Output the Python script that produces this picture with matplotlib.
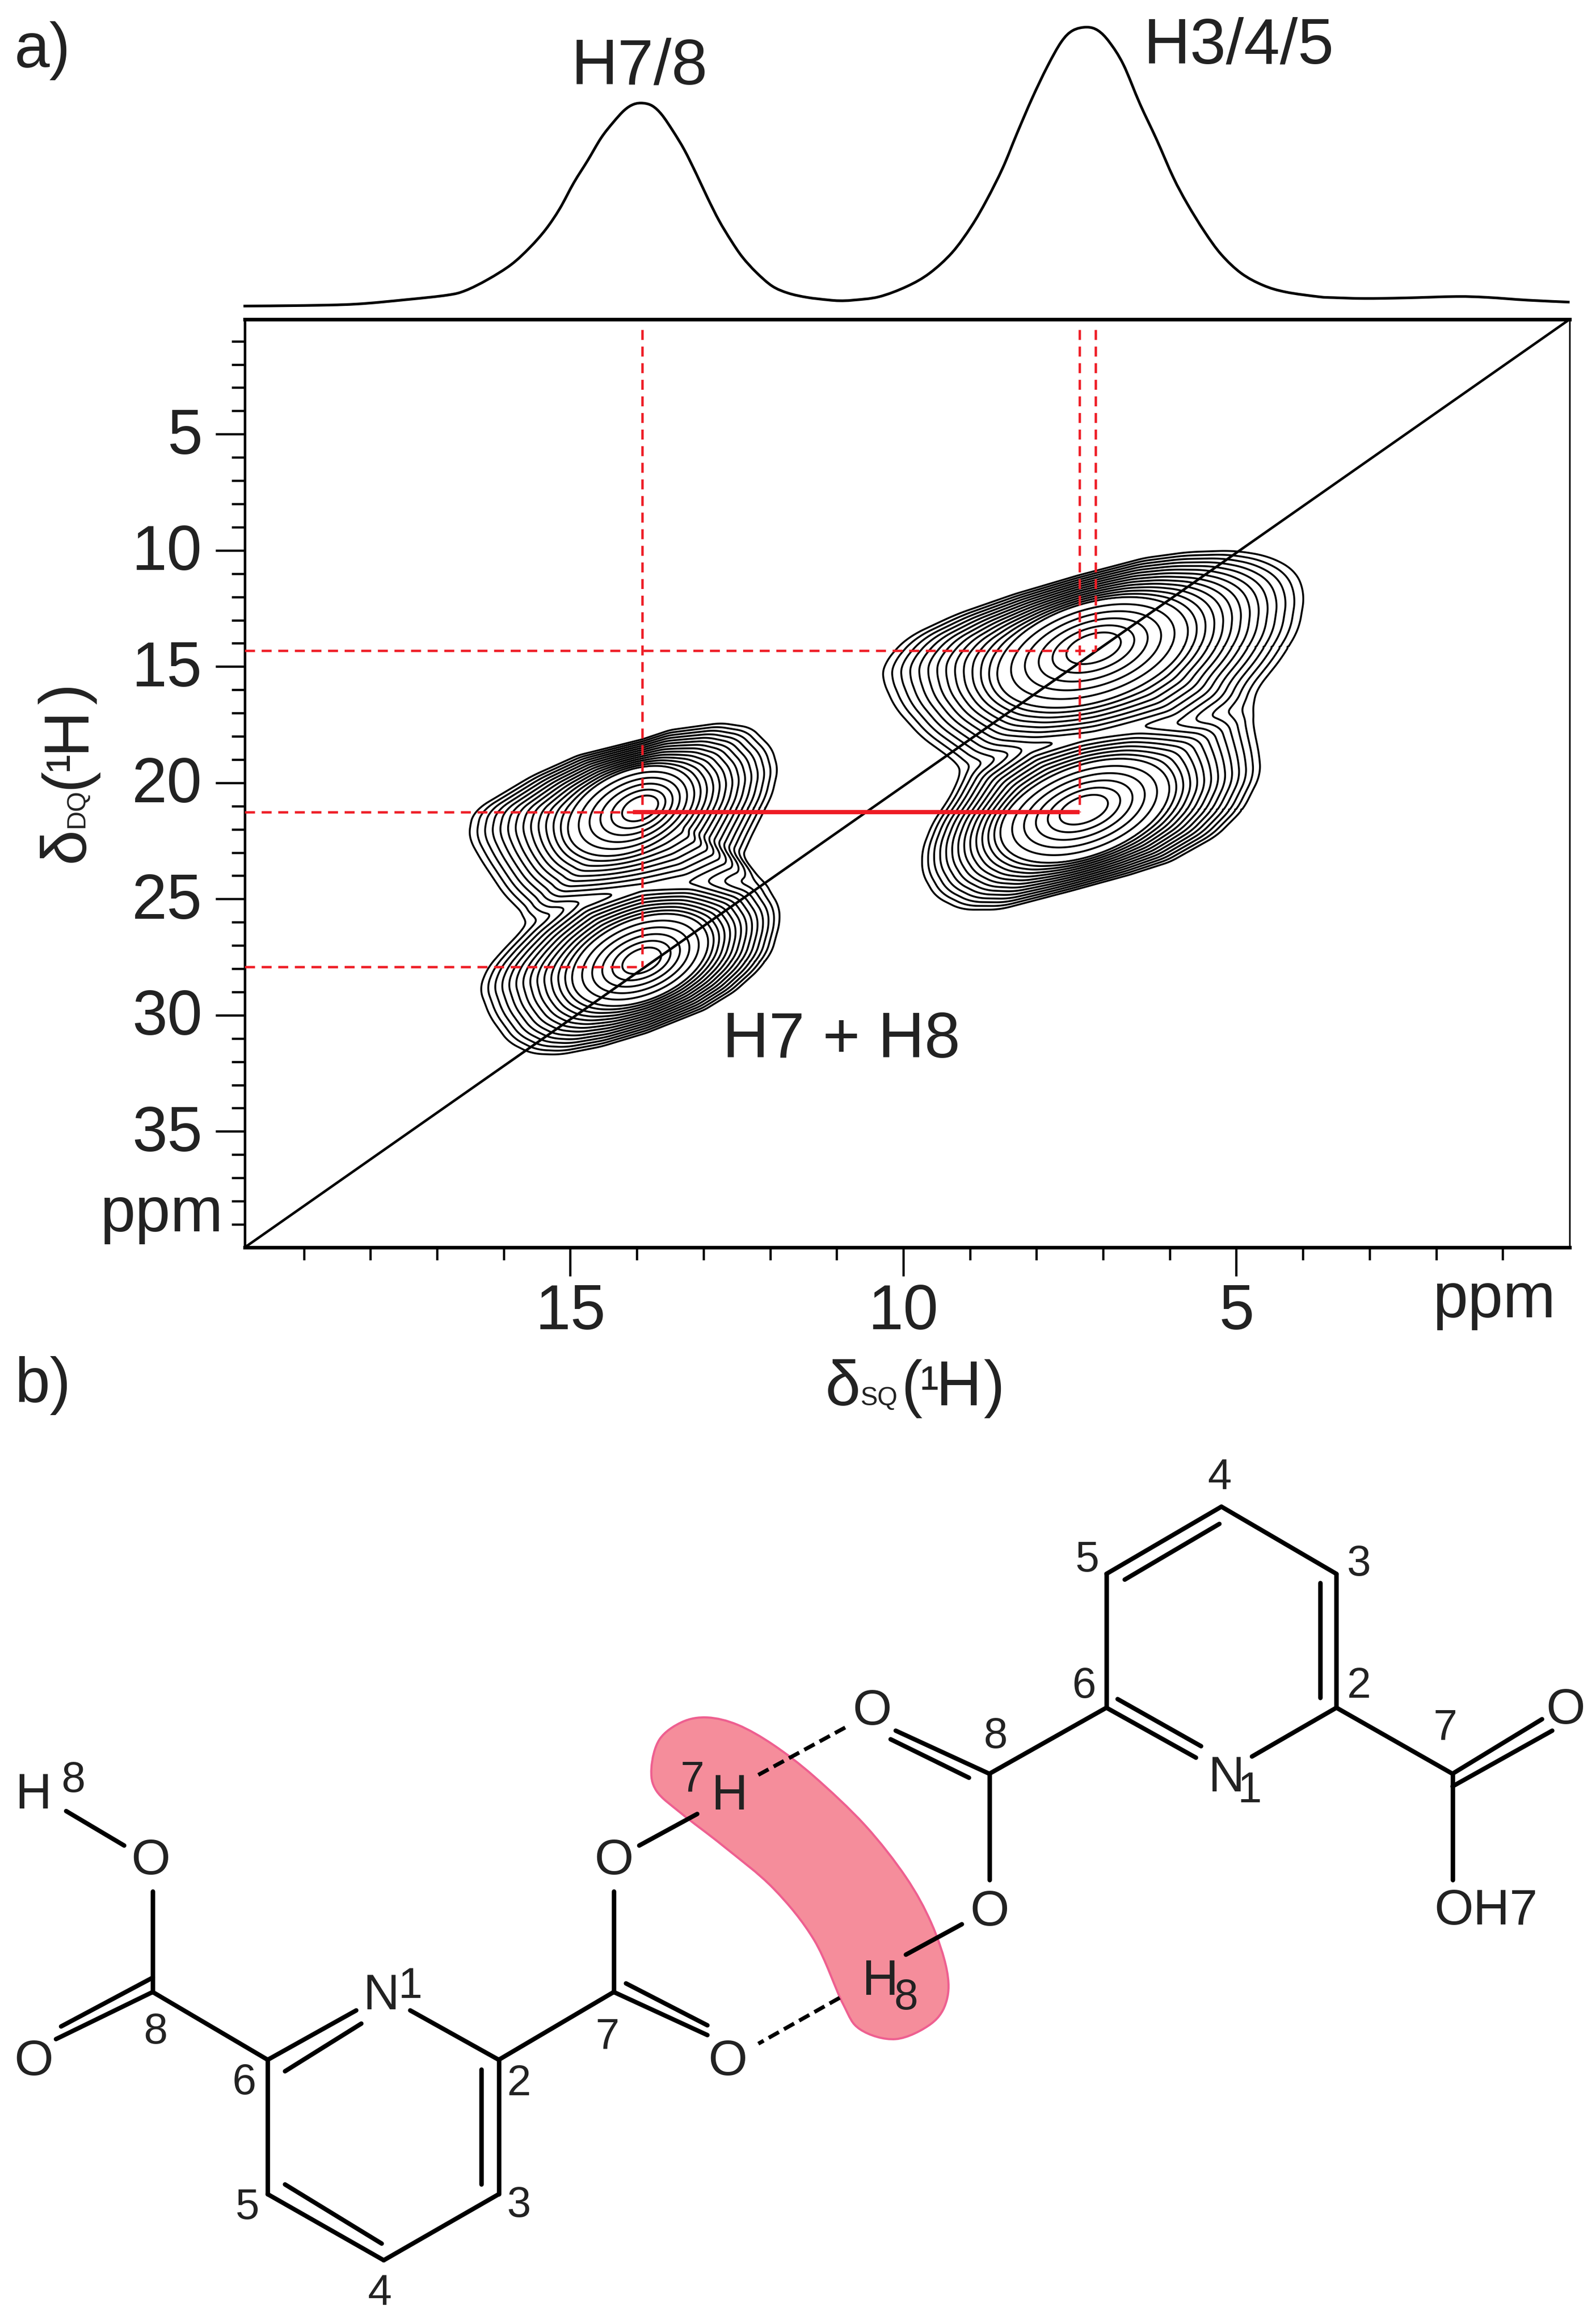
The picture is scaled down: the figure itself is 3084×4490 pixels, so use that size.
import numpy as np
import matplotlib
matplotlib.use("Agg")
import matplotlib.pyplot as plt
from matplotlib.path import Path
from matplotlib.patches import PathPatch
from matplotlib.transforms import ScaledTranslation

plt.rcParams['font.family'] = ['Liberation Sans', 'DejaVu Sans']
W, H = 3084, 4490
TXT = '#222222'
RED = '#ee1c25'

# ---- 1D projection (SQ ppm, relative intensity) ----
proj_ppm = [19.91,18.99,18.22,17.46,16.85,16.58,16.24,15.89,15.61,15.37,15.16,14.95,14.74,14.54,14.36,14.19,14.05,13.91,13.77,13.63,13.46,13.29,13.11,12.94,12.77,12.59,12.42,12.21,11.97,11.73,11.45,11.14,10.96,10.76,10.37,9.95,9.61,9.27,8.98,8.75,8.51,8.30,8.07,7.84,7.63,7.46,7.25,7.08,6.91,6.70,6.45,6.20,5.95,5.74,5.48,5.23,4.93,4.60,4.26,3.76,3.54,3.08,2.47,1.70,1.24,0.63,0.0]
proj_int = [0.5,0.7,1.2,2.8,4.4,6.0,10.0,15.3,21.4,27.9,35.3,44.5,52.5,60.5,66,70.4,72.5,72.9,71.9,68.8,62.9,56.2,47.6,39,31,23.9,18,12.5,7.6,5.1,3.6,2.7,2.4,2.6,3.8,7.5,12.2,19.6,29,38.4,49.8,61.9,74.6,86,94.8,98.8,100,98.8,94.7,86.7,72.6,59.9,46.4,37,27,18.9,12.2,7.9,5.5,3.8,3.5,3.2,3.4,3.9,3.6,2.6,1.9]

# ---- 2D lobes: peak centres (SQ, DQ ppm) and outlines ----
lobe_centres = {'A': (13.90, 21.05), 'B': (13.92, 27.66), 'C': (7.14, 14.13), 'D': (7.30, 21.13)}
lobe_unit = {'A': 2.24, 'B': 2.24, 'C': 1.782, 'D': 1.782}
lobe_origin = {'A': (885, 425), 'B': (880, 1090), 'C': (775, 480), 'D': (740, 1040)}
lobe_outline = {
 'A': [(1220,60),(1350,80),(1440,170),(1465,260),(1440,370),(1400,450),(1350,550),(1310,640),(1400,750),(1150,850),(885,880),(640,900),(375,925),(370,890),(280,800),(180,650),(130,560),(130,520),(150,440),(250,380),(400,290),(600,200),(880,130),(1000,90)],
 'B': [(1400,750),(1470,850),(1475,920),(1440,1050),(1380,1130),(1280,1220),(1150,1300),(900,1400),(700,1460),(520,1495),(400,1490),(300,1440),(220,1330),(175,1210),(210,1120),(280,1040),(375,945),(560,800),(880,700),(1150,690)],
 'C': [(1260,150),(1380,170),(1470,220),(1500,300),(1480,420),(1420,520),(1340,620),(1310,690),(1150,800),(775,880),(500,910),(330,900),(270,855),(180,790),(90,690),(45,590),(50,540),(130,450),(300,370),(500,300),(720,235),(950,175),(1100,155)],
 'D': [(1310,690),(1345,850),(1350,920),(1290,1040),(1200,1130),(1040,1220),(900,1265),(700,1320),(450,1385),(320,1385),(230,1340),(185,1260),(185,1180),(220,1090),(280,1000),(330,900),(500,780),(740,720),(1000,680)],
}
# sixth contour of each lobe: ellipse centre x, y, semi-axes, tilt in degrees
lobe_ring6 = {'A': (830,440,290,170,24), 'B': (870,1085,310,175,22), 'C': (770,500,340,170,17), 'D': (745,1045,305,155,20)}
PX_X, PX_Y = 128.7, 44.9   # panel pixels per ppm on each axis
K_INNER, K_OUTER = 7.0, 20.0
Q, P = 1.25, 4.0
contour_steps = np.arange(2.0, 20.1, 1.0)

# ---- cross-peak guide lines (ppm) ----
sq_a, sq_b, sq_c = 13.92, 7.36, 7.12
dq_a, dq_b, dq_c = 14.30, 21.25, 27.91

TH = np.arange(720) * 0.5

def polar_table(points, origin):
    pts = np.asarray(points, float)
    pts = np.vstack([pts, pts[0]])
    seg = []
    for a, b in zip(pts[:-1], pts[1:]):
        t = np.linspace(0, 1, 40, endpoint=False)[:, None]
        seg.append(a + (b - a) * t)
    seg = np.vstack(seg) - np.asarray(origin, float)
    ang = np.degrees(np.arctan2(-seg[:, 1], seg[:, 0])) % 360
    rad = np.hypot(seg[:, 0], seg[:, 1])
    o = np.argsort(ang)
    ang, rad = ang[o], rad[o]
    r = np.interp(TH, np.r_[ang[-1] - 360, ang, ang[0] + 360], np.r_[rad[-1], rad, rad[0]])
    k = np.ones(13) / 13
    return np.convolve(np.r_[r[-6:], r, r[:6]], k, mode='valid')

def ellipse_points(cx, cy, a, b, tilt):
    t = np.radians(np.arange(0, 360, 2.0))
    c, s = np.cos(np.radians(tilt)), np.sin(np.radians(tilt))
    ex, ey = a * np.cos(t), b * np.sin(t)
    return np.c_[cx + ex * c - ey * s, cy - (ex * s + ey * c)]

def lobe_level(X, Y, name):
    x0, y0 = lobe_centres[name]
    u = lobe_unit[name]
    dx = (x0 - X) * PX_X * u
    dy = (y0 - Y) * PX_Y * u
    r = np.hypot(dx, dy)
    a = np.degrees(np.arctan2(dy, dx)) % 360
    ro = polar_table(lobe_outline[name], lobe_origin[name])
    ri = polar_table(ellipse_points(*lobe_ring6[name]), lobe_origin[name])
    Ri = np.interp(a, TH, ri)
    Ro = np.maximum(np.interp(a, TH, ro), Ri * 1.2)
    return np.where(r < Ri, r / Ri * K_INNER,
                    K_INNER + (r - Ri) / (Ro - Ri) * (K_OUTER - K_INNER))

def fx(px): return px / W
def fy(py): return 1 - py / H

fig = plt.figure(figsize=(W / 100, H / 100), dpi=100, facecolor='white')

def ftext(px, py, s, size=88, ha='left', va='baseline', rot=0, color=TXT):
    fig.text(fx(px), fy(py), s, fontsize=size, ha=ha, va=va, rotation=rot, color=color,
             rotation_mode='anchor')

def smooth_path(pts, closed=False):
    p = np.asarray(pts, float)
    n = len(p)
    idx = (lambda i: i % n) if closed else (lambda i: min(max(i, 0), n - 1))
    verts = [p[0]]
    codes = [Path.MOVETO]
    for i in range(n if closed else n - 1):
        p0, p1, p2, p3 = p[idx(i - 1)], p[idx(i)], p[idx(i + 1)], p[idx(i + 2)]
        verts += [p1 + (p2 - p0) / 6, p2 - (p3 - p1) / 6, p2]
        codes += [Path.CURVE4] * 3
    return Path(np.array(verts), codes)

# ---- main 2D panel ----
L, R, T, B = 473, 3033, 617, 2410
ax = fig.add_axes([fx(L), fy(B), (R - L) / W, (B - T) / H])
ax.set_xlim(19.89, 0)
ax.set_ylim(39.98, 0.05)

xg = np.linspace(2.5, 18.5, 1500)
yg = np.linspace(7, 35, 1500)
XG, YG = np.meshgrid(xg, yg)
field = sum(Q ** (-P * lobe_level(XG, YG, n)) for n in lobe_centres) ** (1 / P)
levels = Q ** (-contour_steps[::-1])
ax.contour(XG, YG, field, levels=levels, colors='black', linewidths=2.6, zorder=2)

ax.plot([19.89, 0], [39.98, 0.05], color='black', lw=3.5, zorder=3)

dash = (0, (4.2, 2.8))
dkw = dict(color=RED, lw=3.3, linestyle=dash, zorder=4)
ax.plot([sq_a, sq_a], [0.5, dq_c], **dkw)
ax.plot([sq_b, sq_b], [0.5, dq_b], **dkw)
ax.plot([sq_c, sq_c], [0.5, dq_a], **dkw)
ax.plot([19.89, sq_c], [dq_a, dq_a], **dkw)
ax.plot([19.89, sq_a], [dq_b, dq_b], **dkw)
ax.plot([19.89, sq_a], [dq_c, dq_c], **dkw)
ax.plot([14.06, sq_b], [dq_b, dq_b], color=RED, lw=6, solid_capstyle='butt', zorder=5)

ax.set_xticks([15, 10, 5])
ax.set_xticks(np.arange(1, 20), minor=True)
ax.set_yticks([5, 10, 15, 20, 25, 30, 35])
ax.set_yticks(np.arange(1, 40), minor=True)
ax.tick_params(which='major', length=40, width=3.2, labelsize=88, labelcolor=TXT)
ax.tick_params(which='minor', length=18, width=3.2)
ax.tick_params(axis='y', which='major', pad=19)
ax.tick_params(axis='x', which='major', pad=10)
for lab in ax.get_yticklabels():
    lab.set_transform(lab.get_transform() + ScaledTranslation(0, 0.07, fig.dpi_scale_trans))
ax.spines['top'].set_linewidth(5)
ax.spines['bottom'].set_linewidth(5)
ax.spines['left'].set_linewidth(3.6)
ax.spines['right'].set_linewidth(2.2)

ftext(1396, 2043, 'H7 + H8', size=89.5)

# ---- projection above the panel ----
axp = fig.add_axes([fx(L), fy(594), (R - L) / W, (594 - 52.5) / H])
axp.set_xlim(19.89, 0)
axp.set_ylim(0, 100)
axp.axis('off')
axp.add_patch(PathPatch(smooth_path(np.c_[proj_ppm, proj_int]), facecolor='none', edgecolor='black', lw=3.7, clip_on=False))

ftext(28, 130, 'a)')
ftext(1104, 163, 'H7/8', size=90)
ftext(2210, 122, 'H3/4/5', size=90)
ftext(28, 2709, 'b)')
ftext(193, 2379, 'ppm')
ftext(2768, 2545, 'ppm')

# axis titles built from pieces
ftext(1595, 2715, 'δ')
ftext(1663, 2715, 'SQ', size=36)
ftext(1741, 2715, '(')
ftext(1778, 2715, '¹', size=78)
ftext(1809, 2715, 'H')
ftext(1900, 2715, ')')

ftext(162, 1666, 'δ', rot=90)
ftext(162, 1599, 'DQ', size=36, rot=90)
ftext(162, 1524, '(', rot=90)
ftext(162, 1489, '¹', size=78, rot=90)
ftext(162, 1452, 'H', rot=90)
ftext(162, 1361, ')', rot=90)

# ---- molecular scheme, panel b ----
axm = fig.add_axes([0, 0, 1, (H - 2750) / H])
axm.set_xlim(0, 1568)
axm.set_ylim(1568, 0)
axm.axis('off')
axm.patch.set_alpha(0)

halo = [(640,600),(648,550),(670,520),(695,512),(725,525),(760,560),(800,615),(850,700),(890,790),(915,870),(930,950),(930,1005),(915,1045),(880,1072),(845,1055),(828,1010),(800,900),(760,810),(710,735),(670,680),(645,640)]
axm.add_patch(PathPatch(smooth_path(halo, closed=True), facecolor='#f58d9b', edgecolor='#ee5f90', lw=3, zorder=1))

single_bonds = [
 ((1200,145),(1313,262)), ((1087,262),(1087,495)), ((1313,495),(1230,580)),
 ((1313,495),(1427,610)), ((1427,610),(1427,795)), ((1087,495),(972,610)),
 ((972,610),(972,795)), ((945,872),(890,925)),
 ((603,990),(603,815)), ((628,735),(685,680)), ((490,1108),(603,990)),
 ((490,1108),(403,1022)), ((263,1108),(150,990)), ((150,990),(150,815)),
 ((122,735),(65,675)), ((263,1108),(263,1342)), ((377,1457),(490,1342)),
]
double_bonds = [
 ((1087,262),(1200,145),(1105,272),(1198,175)), ((1313,262),(1313,495),(1297,278),(1297,478)),
 ((1087,495),(1175,582),(1098,480),(1180,562)),
 ((490,1108),(490,1342),(473,1125),(473,1325)), ((263,1342),(377,1457),(280,1325),(375,1428)),
 ((263,1108),(350,1022),(280,1128),(355,1045)),
 ((1427,610),(1515,515),(1427,632),(1525,535)), ((972,610),(880,535),(952,617),(875,550)),
 ((603,990),(695,1065),(615,975),(695,1048)), ((150,990),(55,1072),(150,965),(60,1050)),
]
bkw = dict(color='black', lw=6.2, solid_capstyle='round', zorder=2)
for a, b in single_bonds:
    axm.plot([a[0], b[0]], [a[1], b[1]], **bkw)
for a, b, c, d in double_bonds:
    axm.plot([a[0], b[0]], [a[1], b[1]], **bkw)
    axm.plot([c[0], d[0]], [c[1], d[1]], **bkw)
hb = [((745,612),(835,525)), ((825,1000),(745,1080))]
for a, b in hb:
    axm.plot([a[0], b[0]], [a[1], b[1]], color='black', lw=5.4, linestyle=(0, (3.0, 1.5)), zorder=2)

atoms = [('O',857,502),('O',1538,500),('O',972,852),('O',603,762),('O',715,1112),('O',148,762),('O',33,1112),
         ('N',1205,618),('N',375,998),('H',717,650),('H',865,972),('H',33,648),('OH7',1460,850)]
for s, x, y in atoms:
    axm.text(x, y, s, fontsize=70, ha='center', va='center', color=TXT, zorder=3)
numbers = [('4',1198,95),('5',1068,238),('3',1335,245),('6',1065,458),('2',1335,458),('7',1420,530),('8',978,545),
           ('1',1228,640),('1',403,980),('8',153,1060),('6',240,1148),('2',510,1150),('7',597,1068),('5',243,1365),
           ('3',510,1362),('4',373,1515),('8',72,622),('7',680,620),('8',890,1000)]
for s, x, y in numbers:
    axm.text(x, y, s, fontsize=60, ha='center', va='center', color=TXT, zorder=3)

fig.savefig('out.png', dpi=100, facecolor='white')
